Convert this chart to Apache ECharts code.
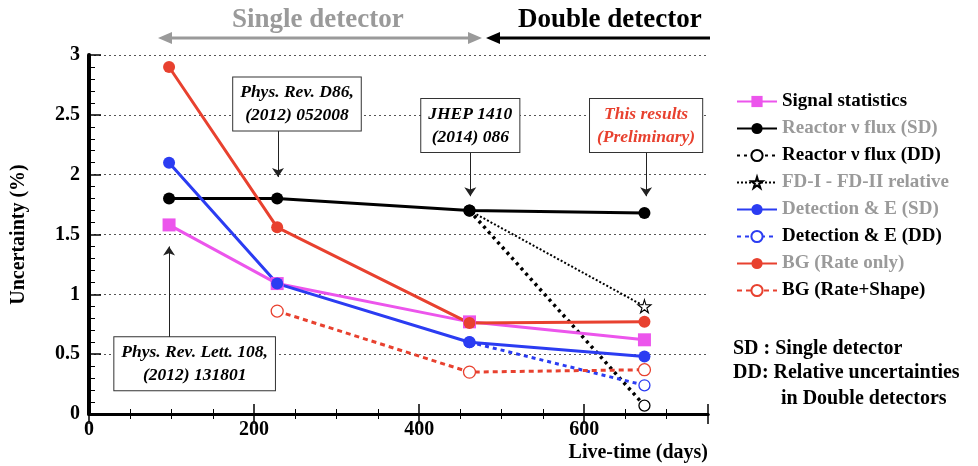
<!doctype html>
<html>
<head>
  <meta charset="UTF-8" />
  <title>Uncertainty vs live-time</title>
  <script src="https://cdn.jsdelivr.net/npm/echarts@6/dist/echarts.min.js"></script>
  <style>
    html, body { margin: 0; padding: 0; background: #ffffff; }
    #chart { width: 978px; height: 466px; }
  </style>
</head>
<body>
  <div id="chart"></div>
  <script>
    // live-time of each data release (days)
    const liveDays = [97, 228, 461, 673];

    // uncertainty (%) per release, null = not available
    const signalStat   = [1.58, 1.09, 0.77, 0.62];
    const reactorSD    = [1.80, 1.80, 1.70, 1.68];
    const reactorDD    = [null, null, 1.70, 0.07];
    const fdRelative   = [null, null, 1.70, 0.90];
    const detectionSD  = [2.10, 1.09, 0.60, 0.48];
    const detectionDD  = [null, null, 0.60, 0.24];
    const bgRateOnly   = [2.90, 1.56, 0.76, 0.77];
    const bgRateShape  = [null, 0.86, 0.35, 0.37];

    const seriesNames = [
      "Signal statistics",
      "Reactor \u03bd flux (SD)",
      "Reactor \u03bd flux (DD)",
      "FD-I - FD-II relative",
      "Detection & E (SD)",
      "Detection & E (DD)",
      "BG (Rate only)",
      "BG (Rate+Shape)"
    ];

    // publication notes: text, box centre [days, %], arrow from / to [days, %]
    const noteTexts = [
      "Phys. Rev. Lett. 108,\n(2012) 131801",
      "Phys. Rev. D86,\n(2012) 052008",
      "JHEP 1410\n(2014) 086",
      "This results\n(Preliminary)"
    ];
    const noteBox = [[128, 0.42], [252, 2.59], [462, 2.41], [675, 2.41]];
    const noteArrowFrom = [[97, 0.63], [229, 2.37], [462, 2.19], [675, 2.19]];
    const noteArrowTo = [[97, 1.40], [229, 1.98], [462, 1.82], [675, 1.82]];

    const serif = "Liberation Serif";
    const MAG = "#ec55ec", BLK = "#000000", BLU = "#2b3cf2", RED = "#e8412f";
    const GRAY = "#9a9a9a";
    const starPath = "path://M50,0 L61,35 L98,35 L68,57 L79,91 L50,70 L21,91 L32,57 L2,35 L39,35 Z";

    const pairs = (vals) => liveDays.map((d, i) => [d, vals[i]]).filter((p) => p[1] != null);

    const mkSeries = (name, vals, color, opt) => Object.assign({
      name: name,
      type: "line",
      data: pairs(vals),
      symbol: "circle",
      symbolSize: 12,
      lineStyle: { color: color, width: 3 },
      itemStyle: { color: color },
      emphasis: { disabled: true },
      animation: false
    }, opt || {});

    // open markers, drawn under the filled series so shared points stay filled
    const openMarker = (color, size) => ({
      z: 1,
      symbol: "circle",
      symbolSize: size,
      itemStyle: { color: "#ffffff", borderColor: color, borderWidth: 1.3 }
    });

    // the FD-I/FD-II line starts on the reactor (SD) point: no star there
    const fdData = liveDays
      .map((d, i) => (fdRelative[i] == null ? null
        : fdRelative[i] === reactorSD[i] ? { value: [d, fdRelative[i]], symbol: "none" }
        : [d, fdRelative[i]]))
      .filter((p) => p != null);

    const chart = echarts.init(document.getElementById("chart"));

    const legendColors = [BLK, GRAY, BLK, GRAY, GRAY, BLK, GRAY, BLK];

    const option = {
      backgroundColor: "#ffffff",
      animation: false,
      grid: { left: 89, right: 270, top: 55, bottom: 52 },
      legend: {
        orient: "vertical",
        left: 731,
        top: 87,
        itemWidth: 40,
        itemHeight: 14,
        itemGap: 8,
        selectedMode: false,
        textStyle: { fontFamily: serif, fontSize: 19, fontWeight: "bold" },
        data: seriesNames.map((n, i) => ({ name: n, textStyle: { color: legendColors[i] } }))
      },
      xAxis: [
        {
          type: "value", min: 0, max: 750, interval: 200,
          name: "Live-time (days)",
          nameLocation: "end", nameGap: 0,
          nameTextStyle: { fontFamily: serif, fontSize: 20, fontWeight: "bold", color: "#000",
            align: "right", verticalAlign: "top", padding: [29, 0, 0, 0] },
          axisLine: { lineStyle: { color: "#000", width: 3 } },
          axisTick: { inside: true, length: 10, lineStyle: { color: "#000", width: 1.5 } },
          minorTick: { show: true, splitNumber: 4, length: 5, lineStyle: { color: "#000", width: 1 } },
          axisLabel: { fontFamily: serif, fontSize: 20, fontWeight: "bold", color: "#000", margin: 6, showMaxLabel: false },
          splitLine: { show: false }
        },
        {
          type: "value", min: 0, max: 750, interval: 200, position: "top",
          axisLine: { lineStyle: { color: "#000", width: 3 } },
          axisTick: { inside: true, length: 10, lineStyle: { color: "#000", width: 1.5 } },
          minorTick: { show: true, splitNumber: 4, length: 5, lineStyle: { color: "#000", width: 1 } },
          axisLabel: { show: false },
          splitLine: { show: false }
        }
      ],
      yAxis: [
        {
          type: "value", min: 0, max: 3, interval: 0.5,
          name: "Uncertainty (%)",
          nameLocation: "middle", nameGap: 60,
          nameTextStyle: { fontFamily: serif, fontSize: 20, fontWeight: "bold", color: "#000" },
          axisLine: { show: true, lineStyle: { color: "#000", width: 3 } },
          axisTick: { inside: true, length: 12, lineStyle: { color: "#000", width: 1.5 } },
          minorTick: { show: true, splitNumber: 5, length: 6, lineStyle: { color: "#000", width: 1 } },
          axisLabel: { fontFamily: serif, fontSize: 20, fontWeight: "bold", color: "#000", margin: 9 },
          splitLine: { show: true, lineStyle: { color: "#555", width: 1, type: [2, 3] } }
        },
        {
          type: "value", min: 0, max: 3, interval: 0.5, position: "right",
          axisLine: { show: true, lineStyle: { color: "#000", width: 4 } },
          axisTick: { show: false },
          axisLabel: { show: false },
          splitLine: { show: false }
        }
      ],
      series: [
        mkSeries(seriesNames[0], signalStat, MAG, { symbol: "rect", symbolSize: 13 }),
        mkSeries(seriesNames[1], reactorSD, BLK),
        mkSeries(seriesNames[2], reactorDD, BLK, Object.assign({
          lineStyle: { color: BLK, width: 3.5, type: [3, 4] }
        }, openMarker(BLK, 11))),
        mkSeries(seriesNames[3], fdRelative, BLK, {
          z: 1,
          data: fdData,
          symbol: starPath, symbolSize: 13,
          lineStyle: { color: BLK, width: 2, type: [2, 2] },
          itemStyle: { color: "#fff", borderColor: BLK, borderWidth: 1.1 }
        }),
        mkSeries(seriesNames[4], detectionSD, BLU),
        mkSeries(seriesNames[5], detectionDD, BLU, Object.assign({
          lineStyle: { color: BLU, width: 3, type: [4, 4] }
        }, openMarker(BLU, 11))),
        mkSeries(seriesNames[6], bgRateOnly, RED),
        mkSeries(seriesNames[7], bgRateShape, RED, Object.assign({
          lineStyle: { color: RED, width: 3, type: [5, 4] }
        }, openMarker(RED, 12))),
        {
          name: "notes",
          type: "line",
          data: [],
          silent: true,
          z: 5,
          markLine: {
            silent: true,
            symbol: ["none", "arrow"],
            symbolSize: 9,
            label: { show: false },
            lineStyle: { color: "#222", width: 1, type: "solid" },
            data: noteArrowFrom.map((f, i) => [{ coord: f }, { coord: noteArrowTo[i] }])
          },
          markPoint: {
            silent: true,
            symbol: "rect",
            symbolSize: 0,
            data: noteBox.map((c, i) => ({
              coord: c,
              label: {
                show: true,
                position: "inside",
                formatter: noteTexts[i],
                fontFamily: serif,
                fontStyle: "italic",
                fontWeight: "bold",
                fontSize: 17.5,
                lineHeight: 23,
                color: i === 3 ? "#e8412f" : "#000",
                backgroundColor: "#fff",
                borderColor: "#333",
                borderWidth: 1,
                padding: [4, 7, 3, 7]
              }
            }))
          }
        }
      ],
      graphic: [
        { type: "text", left: 232, top: 7, style: { text: "Single detector", fill: GRAY, font: "bold 27px " + serif } },
        { type: "text", left: 518, top: 7, style: { text: "Double detector", fill: "#000", font: "bold 27px " + serif } },
        { type: "line", shape: { x1: 168, y1: 38, x2: 472, y2: 38 }, style: { stroke: GRAY, lineWidth: 3 } },
        { type: "polygon", shape: { points: [[158, 38], [172, 32], [172, 44]] }, style: { fill: GRAY } },
        { type: "polygon", shape: { points: [[482, 38], [468, 32], [468, 44]] }, style: { fill: GRAY } },
        { type: "line", shape: { x1: 496, y1: 38, x2: 710, y2: 38 }, style: { stroke: "#000", lineWidth: 3 } },
        { type: "polygon", shape: { points: [[486, 38], [500, 32], [500, 44]] }, style: { fill: "#000" } },
        { type: "text", left: 733, top: 339, style: { text: "SD : Single detector", fill: "#000", font: "bold 20px " + serif } },
        { type: "text", left: 733, top: 363, style: { text: "DD: Relative uncertainties", fill: "#000", font: "bold 20px " + serif } },
        { type: "text", left: 781, top: 389, style: { text: "in Double detectors", fill: "#000", font: "bold 20px " + serif } }
      ]
    };

    chart.setOption(option);
  </script>
</body>
</html>
